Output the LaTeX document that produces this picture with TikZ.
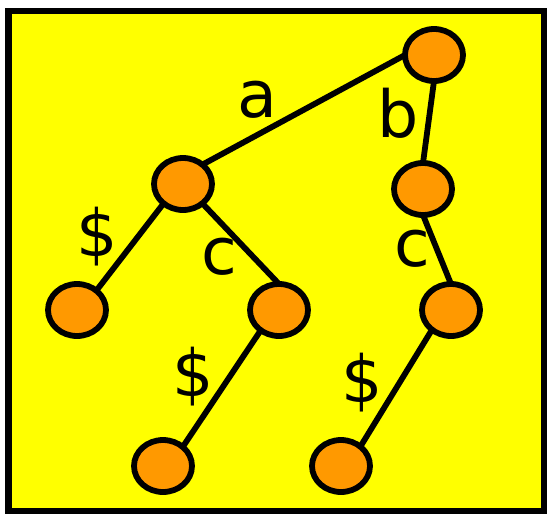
\documentclass[tikz,border=0pt]{standalone}
\usepackage{fontspec}
\setmainfont{DejaVu Sans}
\usetikzlibrary{shapes.geometric}
\definecolor{bgyellow}{RGB}{255,255,0}
\definecolor{vxorange}{RGB}{255,153,0}

\begin{document}
\begin{tikzpicture}[x=0.02cm,y=-0.02cm,line width=3.3pt,
  vx/.style={ellipse,draw,fill=vxorange,minimum width=1.16cm,minimum height=1.04cm,inner sep=0pt,outer sep=0pt},
  lbl/.style={font=\fontsize{37}{40}\selectfont,inner sep=0pt}]
\useasboundingbox (0,0) rectangle (547,514);
\draw[fill=bgyellow,line width=3.6pt] (8.5,11) rectangle (544,511);
% vertices
\node[vx] (root) at (434,55) {};
\node[vx] (va) at (183,184) {};
\node[vx] (vb) at (423,189) {};
\node[vx] (vad) at (77,310) {};
\node[vx] (vac) at (279,310) {};
\node[vx] (vbc) at (451,310) {};
\node[vx] (vacd) at (163,466) {};
\node[vx] (vbcd) at (341,466) {};
% edges
\draw (root.180) -- (va.45);
\draw (root.south) -- (vb.north);
\draw (va.225) -- (vad.45);
\draw (va.-45) -- (vac.north);
\draw (vb.south) -- (vbc.north);
\draw (vac.228) -- (vacd.44);
\draw (vbc.226) -- (vbcd.45);
% edge labels
\node[lbl] (la) at (257,100) {a};
\node[lbl] (lb) at (398,113) {b};
\node[lbl] (lad) at (97,237) {\$};
\node[lbl] (lac) at (219,257) {c};
\node[lbl] (lbc) at (412,249) {c};
\node[lbl] (lacd) at (193,377) {\$};
\node[lbl] (lbcd) at (362,383) {\$};
\end{tikzpicture}
\end{document}
